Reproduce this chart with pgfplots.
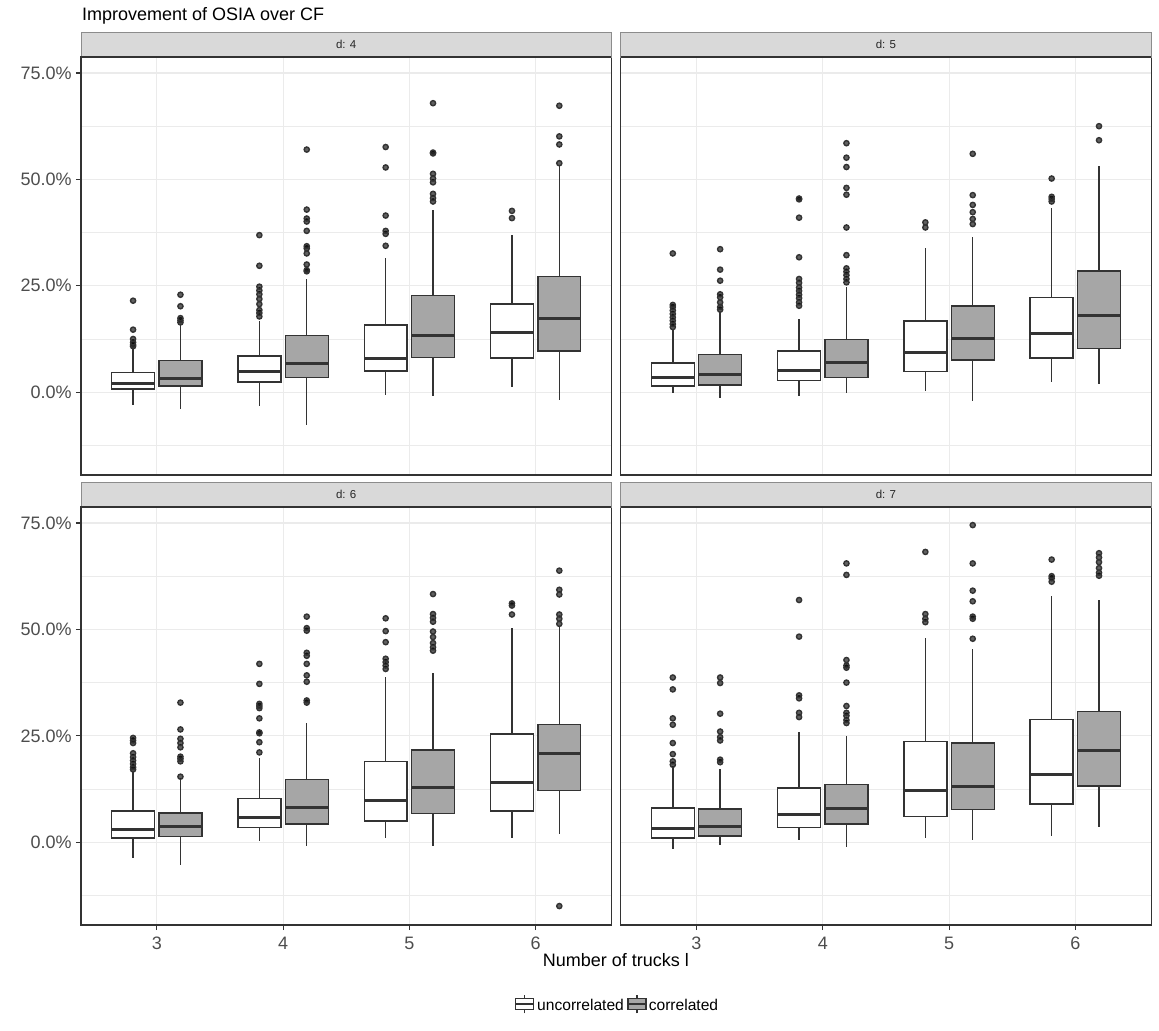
\documentclass[border=0pt]{standalone}
\usepackage{fontspec}
\setmainfont{Liberation Sans}
\usepackage{pgfplots}
\pgfplotsset{compat=1.18}
\usepgfplotslibrary{statistics}
\definecolor{bline}{RGB}{51,51,51}
\definecolor{gfill}{RGB}{166,166,166}
\definecolor{gridc}{RGB}{235,235,235}
\definecolor{stripc}{RGB}{217,217,217}
\definecolor{tlab}{RGB}{77,77,77}
\pgfplotsset{
  bxbase/.style={draw=bline, line width=0.7pt, solid, mark=*, mark size=1.3pt,
    mark options={draw=none, fill=black, fill opacity=0.62},
    boxplot/draw direction=y,
    boxplot/box extend=0.34, boxplot/whisker extend=0,
    boxplot/every median/.style={line width=1.5pt}},
  U/.style={bxbase, boxplot/every box/.style={fill=white}},
  C/.style={bxbase, boxplot/every box/.style={fill=gfill}},
  panel/.style={
    scale only axis, width=265.2pt, height=209pt, anchor=south west,
    xmin=2.4, xmax=6.6, ymin=-19.45, ymax=78.75,
    xtick={3,4,5,6}, ytick={0,25,50,75}, minor ytick={-12.5,12.5,37.5,62.5},
    xmajorgrids, ymajorgrids, yminorgrids,
    major grid style={draw=gridc, line width=0.55pt},
    minor grid style={draw=gridc, line width=0.3pt},
    axis line style={draw=bline, line width=0.55pt},
    tick align=outside, tick pos=left, major tick length=2.6pt, minor tick length=0pt,
    tick style={draw=bline, line width=0.55pt},
    ticklabel style={font=\fontsize{9}{10}\selectfont, text=tlab},
    yticklabel style={xshift=1.5pt},
    /pgf/number format/assume math mode=true,
    xticklabels={3,4,5,6}, yticklabels={0.0\%,25.0\%,50.0\%,75.0\%},
  },
  notopx/.style={xticklabels={}, xtick style={draw=none}},
  noy/.style={yticklabels={}, ytick style={draw=none}},
}
\newcommand{\bp}[7]{\addplot[#1, boxplot prepared={draw position=#2, lower whisker=#3, lower quartile=#4, median=#5, upper quartile=#6, upper whisker=#7}]}
\begin{document}
\begin{tikzpicture}
\path[use as bounding box] (0,0) rectangle (579.5pt,515pt);
% ---------------- d: 4
\begin{axis}[panel, notopx, at={(40.5pt,277.5pt)}]
\bp{U}{2.8125}{-3.0}{0.8}{2.1}{4.7}{10.2} table[row sep=\\,y index=0]{data\\ 10.8\\ 11.1\\ 11.7\\ 12.5\\ 14.7\\ 21.5\\};
\bp{C}{3.1875}{-3.9}{1.5}{3.3}{7.4}{16.0} table[row sep=\\,y index=0]{data\\ 16.4\\ 16.9\\ 17.4\\ 20.2\\ 22.9\\};
\bp{U}{3.8125}{-3.3}{2.4}{4.9}{8.5}{16.7} table[row sep=\\,y index=0]{data\\ 17.8\\ 18.6\\ 19.3\\ 20.7\\ 21.9\\ 23.0\\ 23.9\\ 24.8\\ 29.7\\ 36.9\\};
\bp{C}{4.1875}{-7.7}{3.4}{6.8}{13.3}{26.6} table[row sep=\\,y index=0]{data\\ 28.4\\ 28.7\\ 30.0\\ 32.6\\ 33.8\\ 34.3\\ 37.9\\ 40.1\\ 40.8\\ 42.9\\ 57.0\\};
\bp{U}{4.8125}{-0.6}{5.0}{8.0}{15.8}{31.5} table[row sep=\\,y index=0]{data\\ 34.4\\ 37.2\\ 37.9\\ 41.5\\ 52.8\\ 57.6\\};
\bp{C}{5.1875}{-0.9}{8.2}{13.3}{22.7}{42.8} table[row sep=\\,y index=0]{data\\ 44.8\\ 45.6\\ 46.6\\ 49.3\\ 50.2\\ 51.3\\ 56.1\\ 56.3\\ 67.9\\};
\bp{U}{5.8125}{1.3}{8.0}{14.1}{20.7}{36.9} table[row sep=\\,y index=0]{data\\ 40.9\\ 42.6\\};
\bp{C}{6.1875}{-1.9}{9.7}{17.4}{27.2}{53.2} table[row sep=\\,y index=0]{data\\ 53.8\\ 58.2\\ 60.1\\ 67.3\\};
\end{axis}
% ---------------- d: 5
\begin{axis}[panel, notopx, noy, at={(310.35pt,277.5pt)}]
\bp{U}{2.8125}{-0.2}{1.5}{3.4}{6.9}{14.9} table[row sep=\\,y index=0]{data\\ 15.3\\ 16.0\\ 16.8\\ 17.6\\ 18.4\\ 19.2\\ 20.0\\ 20.5\\ 32.6\\};
\bp{C}{3.1875}{-1.3}{1.7}{4.2}{8.8}{18.8} table[row sep=\\,y index=0]{data\\ 19.4\\ 20.0\\ 21.1\\ 22.3\\ 23.0\\ 26.2\\ 28.8\\ 33.6\\};
\bp{U}{3.8125}{-0.9}{2.7}{5.2}{9.7}{17.1} table[row sep=\\,y index=0]{data\\ 20.3\\ 21.1\\ 22.1\\ 22.9\\ 23.8\\ 24.6\\ 25.7\\ 26.6\\ 31.7\\ 41.0\\ 45.3\\ 45.5\\};
\bp{C}{4.1875}{-0.3}{3.4}{7.0}{12.4}{24.8} table[row sep=\\,y index=0]{data\\ 25.8\\ 26.6\\ 27.5\\ 28.3\\ 29.1\\ 32.2\\ 38.7\\ 46.4\\ 48.0\\ 52.9\\ 55.1\\ 58.5\\};
\bp{U}{4.8125}{0.3}{4.9}{9.4}{16.7}{33.9} table[row sep=\\,y index=0]{data\\ 38.7\\ 39.9\\};
\bp{C}{5.1875}{-2.0}{7.6}{12.7}{20.3}{36.5} table[row sep=\\,y index=0]{data\\ 39.5\\ 40.7\\ 42.3\\ 44.0\\ 46.3\\ 56.0\\};
\bp{U}{5.8125}{2.4}{8.0}{13.9}{22.3}{43.3} table[row sep=\\,y index=0]{data\\ 44.8\\ 45.4\\ 45.9\\ 50.2\\};
\bp{C}{6.1875}{2.0}{10.3}{18.0}{28.5}{53.2} table[row sep=\\,y index=0]{data\\ 59.2\\ 62.5\\};
\end{axis}
% ---------------- d: 6
\begin{axis}[panel, at={(40.5pt,52.5pt)}]
\bp{U}{2.8125}{-3.8}{1.0}{3.0}{7.3}{16.7} table[row sep=\\,y index=0]{data\\ 17.1\\ 17.6\\ 18.4\\ 19.2\\ 20.0\\ 20.9\\ 23.3\\ 23.9\\ 24.5\\};
\bp{C}{3.1875}{-5.3}{1.3}{3.8}{6.9}{15.0} table[row sep=\\,y index=0]{data\\ 15.4\\ 19.0\\ 19.6\\ 20.1\\ 22.3\\ 23.3\\ 24.3\\ 26.5\\ 32.8\\};
\bp{U}{3.8125}{0.4}{3.4}{5.9}{10.3}{19.7} table[row sep=\\,y index=0]{data\\ 21.1\\ 23.5\\ 25.6\\ 25.8\\ 29.1\\ 31.5\\ 32.0\\ 32.5\\ 37.2\\ 41.9\\};
\bp{C}{4.1875}{-0.9}{4.3}{8.2}{14.7}{28.0} table[row sep=\\,y index=0]{data\\ 32.8\\ 33.3\\ 37.7\\ 39.2\\ 41.9\\ 43.8\\ 44.5\\ 49.7\\ 50.3\\ 53.0\\};
\bp{U}{4.8125}{0.9}{5.0}{9.9}{18.9}{38.7} table[row sep=\\,y index=0]{data\\ 40.7\\ 41.5\\ 42.3\\ 43.1\\ 47.0\\ 49.6\\ 52.6\\};
\bp{C}{5.1875}{-0.9}{6.7}{12.8}{21.7}{39.7} table[row sep=\\,y index=0]{data\\ 45.0\\ 45.8\\ 46.8\\ 48.2\\ 49.5\\ 51.8\\ 52.7\\ 53.6\\ 58.3\\};
\bp{U}{5.8125}{0.9}{7.3}{14.1}{25.4}{50.3} table[row sep=\\,y index=0]{data\\ 53.5\\ 55.6\\ 56.1\\};
\bp{C}{6.1875}{2.0}{12.1}{20.9}{27.6}{50.8} table[row sep=\\,y index=0]{data\\ 51.3\\ 52.5\\ 53.5\\ 58.2\\ 59.3\\ 63.8\\ -15.0\\};
\end{axis}
% ---------------- d: 7
\begin{axis}[panel, noy, at={(310.35pt,52.5pt)}]
\bp{U}{2.8125}{-1.6}{1.0}{3.2}{8.0}{17.8} table[row sep=\\,y index=0]{data\\ 18.2\\ 19.0\\ 20.7\\ 23.3\\ 27.6\\ 29.1\\ 35.9\\ 38.7\\};
\bp{C}{3.1875}{-0.6}{1.5}{3.7}{7.8}{17.1} table[row sep=\\,y index=0]{data\\ 18.8\\ 19.4\\ 23.9\\ 24.7\\ 26.0\\ 30.2\\ 37.4\\ 38.7\\};
\bp{U}{3.8125}{0.5}{3.4}{6.4}{12.7}{25.8} table[row sep=\\,y index=0]{data\\ 29.4\\ 30.4\\ 33.8\\ 34.5\\ 48.3\\ 56.9\\};
\bp{C}{4.1875}{-1.2}{4.3}{8.0}{13.5}{25.0} table[row sep=\\,y index=0]{data\\ 28.0\\ 28.7\\ 29.7\\ 30.4\\ 32.0\\ 37.5\\ 41.0\\ 41.5\\ 42.8\\ 62.8\\ 65.5\\};
\bp{U}{4.8125}{1.1}{6.0}{12.1}{23.6}{48.0} table[row sep=\\,y index=0]{data\\ 51.7\\ 52.5\\ 53.6\\ 68.2\\};
\bp{C}{5.1875}{0.5}{7.7}{13.0}{23.3}{45.5} table[row sep=\\,y index=0]{data\\ 47.8\\ 52.5\\ 53.0\\ 56.6\\ 59.1\\ 65.5\\ 74.5\\};
\bp{U}{5.8125}{1.5}{9.0}{15.8}{28.8}{57.9} table[row sep=\\,y index=0]{data\\ 61.2\\ 62.0\\ 62.5\\ 66.4\\};
\bp{C}{6.1875}{3.5}{13.2}{21.5}{30.7}{56.9} table[row sep=\\,y index=0]{data\\ 62.6\\ 63.3\\ 64.4\\ 65.8\\ 66.9\\ 67.9\\};
\end{axis}
% ---------------- strips
\begin{scope}[draw=black!45, line width=0.4pt]
\filldraw[fill=stripc] (40.5pt,486.5pt) rectangle (305.7pt,498.85pt);
\filldraw[fill=stripc] (310.35pt,486.5pt) rectangle (575.55pt,498.85pt);
\filldraw[fill=stripc] (40.5pt,261.5pt) rectangle (305.7pt,273.85pt);
\filldraw[fill=stripc] (310.35pt,261.5pt) rectangle (575.55pt,273.85pt);
\end{scope}
\draw[bline, line width=0.55pt] (40.5pt,486.5pt) -- (305.7pt,486.5pt);
\draw[bline, line width=0.55pt] (310.35pt,486.5pt) -- (575.55pt,486.5pt);
\draw[bline, line width=0.55pt] (40.5pt,261.5pt) -- (305.7pt,261.5pt);
\draw[bline, line width=0.55pt] (310.35pt,261.5pt) -- (575.55pt,261.5pt);
\begin{scope}[every node/.style={font=\fontsize{5.75}{6}\selectfont, text=black!85, inner sep=0pt}]
\node at (173.1pt,492.7pt) {d: 4};
\node at (442.95pt,492.7pt) {d: 5};
\node at (173.1pt,267.7pt) {d: 6};
\node at (442.95pt,267.7pt) {d: 7};
\end{scope}
% ---------------- titles
\node[anchor=base west, inner sep=0pt, font=\fontsize{9}{11}\selectfont] at (40.85pt,504.5pt) {Improvement of OSIA over CF};
\node[anchor=base, inner sep=0pt, font=\fontsize{9}{11}\selectfont] at (307.9pt,32pt) {Number of trucks l};
% ---------------- legend
\begin{scope}[draw=bline, line width=0.6pt]
\draw (262.1pt,8.35pt) -- (262.1pt,17.65pt);
\filldraw[fill=white] (257.6pt,10.25pt) rectangle (266.6pt,15.75pt);
\draw (257.6pt,13pt) -- (266.6pt,13pt);
\draw (318.5pt,8.35pt) -- (318.5pt,17.65pt);
\filldraw[fill=gfill] (314pt,10.25pt) rectangle (323pt,15.75pt);
\draw (314pt,13pt) -- (323pt,13pt);
\end{scope}
\node[anchor=base west, inner sep=0pt, font=\fontsize{7.8}{9}\selectfont] at (268.4pt,10pt) {uncorrelated};
\node[anchor=base west, inner sep=0pt, font=\fontsize{7.8}{9}\selectfont] at (324.2pt,10pt) {correlated};
\end{tikzpicture}
\end{document}
